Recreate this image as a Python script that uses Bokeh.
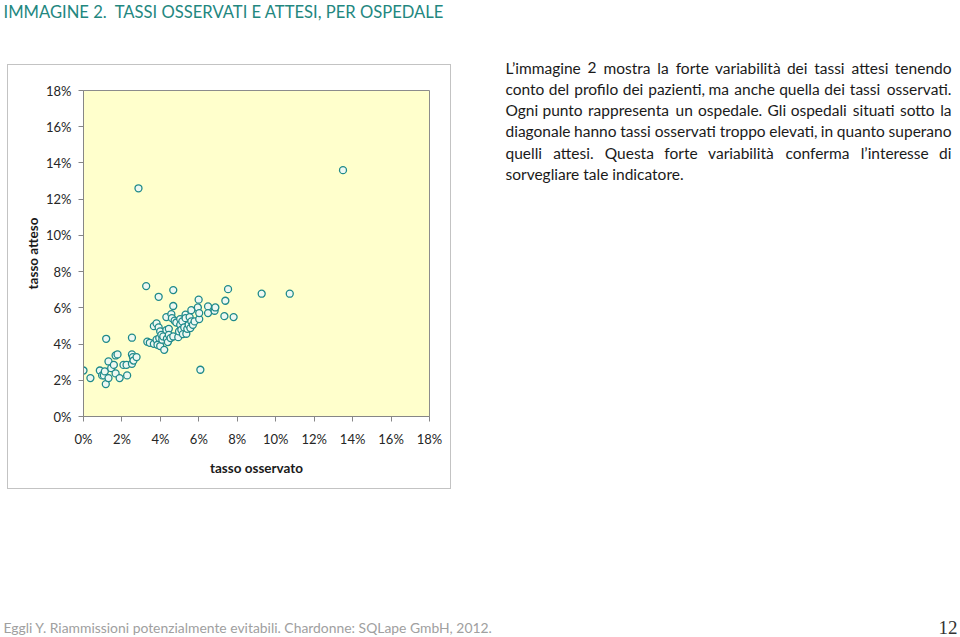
from bokeh.plotting import figure
from bokeh.layouts import column, row
from bokeh.models import (FixedTicker, NumeralTickFormatter, Label, ColumnDataSource,
                          Range1d, Spacer)
from bokeh.embed import file_html
from bokeh.resources import INLINE

# ---- data (fractions) ----
tasso_osservato = [0.0000, 0.0036, 0.0085, 0.0097, 0.0106, 0.0111, 0.0116, 0.0118, 0.0130, 0.0130,
                   0.0144, 0.0158, 0.0167, 0.0167, 0.0177, 0.0188, 0.0208, 0.0224, 0.0227, 0.0252,
                   0.0252, 0.0252, 0.0257, 0.0260, 0.0276, 0.0326, 0.0332, 0.0345, 0.0366, 0.0366,
                   0.0380, 0.0380, 0.0385, 0.0391, 0.0391, 0.0394, 0.0399, 0.0399, 0.0405, 0.0410,
                   0.0415, 0.0420, 0.0431, 0.0431, 0.0434, 0.0439, 0.0444, 0.0444, 0.0453, 0.0457,
                   0.0460, 0.0467, 0.0467, 0.0467, 0.0474, 0.0483, 0.0493, 0.0497, 0.0503, 0.0503,
                   0.0509, 0.0514, 0.0517, 0.0524, 0.0531, 0.0531, 0.0535, 0.0540, 0.0547, 0.0552,
                   0.0556, 0.0561, 0.0561, 0.0569, 0.0578, 0.0595, 0.0599, 0.0602, 0.0602, 0.0608,
                   0.0648, 0.0648, 0.0682, 0.0686, 0.0733, 0.0738, 0.0752, 0.0781, 0.0927, 0.1073,
                   0.0286, 0.1350]
tasso_atteso = [0.0254, 0.0212, 0.0254, 0.0227, 0.0227, 0.0249, 0.0179, 0.0429, 0.0212, 0.0304,
                0.0267, 0.0285, 0.0238, 0.0337, 0.0343, 0.0212, 0.0285, 0.0285, 0.0227, 0.0435,
                0.0343, 0.0291, 0.0328, 0.0309, 0.0328, 0.0720, 0.0413, 0.0407, 0.0401, 0.0499,
                0.0514, 0.0424, 0.0396, 0.0661, 0.0492, 0.0433, 0.0470, 0.0389, 0.0451, 0.0424,
                0.0442, 0.0368, 0.0549, 0.0477, 0.0429, 0.0411, 0.0484, 0.0451, 0.0433, 0.0565,
                0.0543, 0.0698, 0.0610, 0.0442, 0.0529, 0.0519, 0.0438, 0.0470, 0.0538, 0.0506,
                0.0479, 0.0525, 0.0455, 0.0492, 0.0562, 0.0543, 0.0457, 0.0484, 0.0506, 0.0549,
                0.0488, 0.0587, 0.0525, 0.0506, 0.0525, 0.0602, 0.0645, 0.0538, 0.0571, 0.0258,
                0.0608, 0.0571, 0.0584, 0.0602, 0.0554, 0.0639, 0.0703, 0.0549, 0.0678, 0.0678,
                0.1260, 0.1360]
axis_ticks = [0.00, 0.02, 0.04, 0.06, 0.08, 0.10, 0.12, 0.14, 0.16, 0.18]

title_text = "IMMAGINE 2.\u00a0 TASSI OSSERVATI E ATTESI, PER OSPEDALE"
paragraph_lines = [
    "L\u2019immagine 2 mostra la forte variabilità dei tassi attesi tenendo",
    "conto del profilo dei pazienti, ma anche quella dei tassi osservati.",
    "Ogni punto rappresenta un ospedale. Gli ospedali situati sotto la",
    "diagonale hanno tassi osservati troppo elevati, in quanto superano",
    "quelli attesi. Questa forte variabilità conferma l\u2019interesse di",
    "sorvegliare tale indicatore.",
]
footer_text = "Eggli Y. Riammissioni potenzialmente evitabili. Chardonne: SQLape GmbH, 2012."
page_number = "12"

FONT = "Lato"
W = 960


def text_canvas(w, h):
    f = figure(width=w, height=h, output_backend="svg", toolbar_location=None,
               x_range=Range1d(0, w), y_range=Range1d(h, 0),
               min_border=0, min_border_left=0, min_border_right=0,
               min_border_top=0, min_border_bottom=0)
    f.axis.visible = False
    f.grid.visible = False
    f.outline_line_color = None
    f.background_fill_color = "white"
    f.border_fill_color = "white"
    return f


def add_text(f, x, y, text, **kw):
    f.add_layout(Label(x=x, y=y, text=text, text_baseline="middle", **kw))


# ---- title strip (page y 0..56) ----
TOP_H = 56
top = text_canvas(W, TOP_H)
add_text(top, 3, 11, title_text, text_font=FONT, text_font_size="16.6px",
         text_color="#23877f", text_align="left")

# ---- chart (page x 7..451, y 64..489) ----
CW, CH = 444, 425
chart = figure(width=CW, height=CH, output_backend="svg", toolbar_location=None,
               x_range=(0, 0.18), y_range=(0, 0.18),
               min_border_left=75, min_border_right=23,
               min_border_top=25, min_border_bottom=74,
               styles={"border": "1px solid #c3c3c3"})
chart.border_fill_color = "white"
chart.background_fill_color = "#FFFFCC"
chart.outline_line_color = "#8c8c8c"
chart.grid.visible = False
for ax in (chart.xaxis[0], chart.yaxis[0]):
    ax.ticker = FixedTicker(ticks=axis_ticks)
    ax.formatter = NumeralTickFormatter(format="0%")
    ax.axis_line_color = "#868686"
    ax.major_tick_line_color = "#868686"
    ax.major_tick_out = 5
    ax.major_tick_in = 0
    ax.minor_tick_line_color = None
    ax.major_label_text_font = FONT
    ax.major_label_text_font_size = "13px"
    ax.major_label_text_color = "#262626"
    ax.axis_label_text_font = FONT
    ax.axis_label_text_font_size = "13.5px"
    ax.axis_label_text_font_style = "bold"
    ax.axis_label_text_color = "#1a1a1a"
chart.xaxis.axis_label = "tasso osservato"
chart.yaxis.axis_label = "tasso atteso"
chart.xaxis.major_label_standoff = 9
chart.xaxis.axis_label_standoff = 10
chart.yaxis.major_label_standoff = 7
chart.yaxis.axis_label_standoff = 2

src = ColumnDataSource(dict(x=tasso_osservato, y=tasso_atteso))
chart.scatter("x", "y", source=src, size=7, marker="circle",
              line_color="#1f8a8a", line_width=1.3, fill_color="#eef8f2")

left_block = column(Spacer(width=456, height=8),
                    row(Spacer(width=7, height=CH), chart, Spacer(width=456 - 7 - CW, height=CH)),
                    Spacer(width=456, height=444 - 8 - CH))

# ---- paragraph (page x 456..960, y 56..500), justified word by word ----
PW, PH = W - 456, 444
para = text_canvas(PW, PH)
PSIZE = 15.5
PS = f"{PSIZE}px"
LEFT, RIGHT = 505 - 456, 951 - 456
ys = [67, 88.3, 109.6, 130.9, 152.2, 173.5]
# measured natural pixel widths at PSIZE: line without last word, and last word
head_widths = [351, 352, 417, 376, 379]
last_widths = [56, 66, 11, 63, 11]
CHW = dict(a=.50, b=.56, c=.46, d=.56, e=.52, f=.32, g=.50, h=.56, i=.24, j=.24, k=.50,
           l=.24, m=.84, n=.56, o=.56, p=.56, q=.56, r=.36, s=.45, t=.35, u=.56, v=.52,
           w=.76, x=.48, y=.50, z=.45)
CHW.update({"à": .50, "\u2019": .2, "'": .2, ".": .2, ",": .2, "L": .47, "O": .74,
            "G": .68, "Q": .74, "2": .58})
SPACE = 0.2 * PSIZE


def est(word):
    return sum(CHW.get(ch, .55) for ch in word)


for i, (line, yy) in enumerate(zip(paragraph_lines, ys)):
    ly = yy - TOP_H
    words = line.split(" ")
    if i == len(paragraph_lines) - 1:
        add_text(para, LEFT, ly, line, text_font=FONT, text_font_size=PS,
                 text_color="#1a1a1a", text_align="left")
        continue
    head = words[:-1]
    ink = head_widths[i] - (len(head) - 1) * SPACE
    scale = ink / sum(est(w) for w in head)
    widths = [est(w) * scale for w in head]
    gap = (RIGHT - LEFT - ink - last_widths[i]) / (len(words) - 1)
    x = LEFT
    for w, wd in zip(head, widths):
        add_text(para, x, ly, w, text_font=FONT, text_font_size=PS,
                 text_color="#1a1a1a", text_align="left")
        x += wd + gap
    add_text(para, RIGHT, ly, words[-1], text_font=FONT, text_font_size=PS,
             text_color="#1a1a1a", text_align="right")

# ---- footer (page y 500..637) ----
FH = 637 - 500
foot = text_canvas(W, FH)
add_text(foot, 3, 627 - 500, footer_text, text_font=FONT, text_font_size="13.9px",
         text_color="#a0a0a0", text_align="left")
add_text(foot, 957, 627 - 500, page_number, text_font="Liberation Serif",
         text_font_size="19px", text_color="#333333", text_align="right")

layout = column(top, row(left_block, para), foot)
open("out.html", "w").write(file_html(layout, INLINE))
